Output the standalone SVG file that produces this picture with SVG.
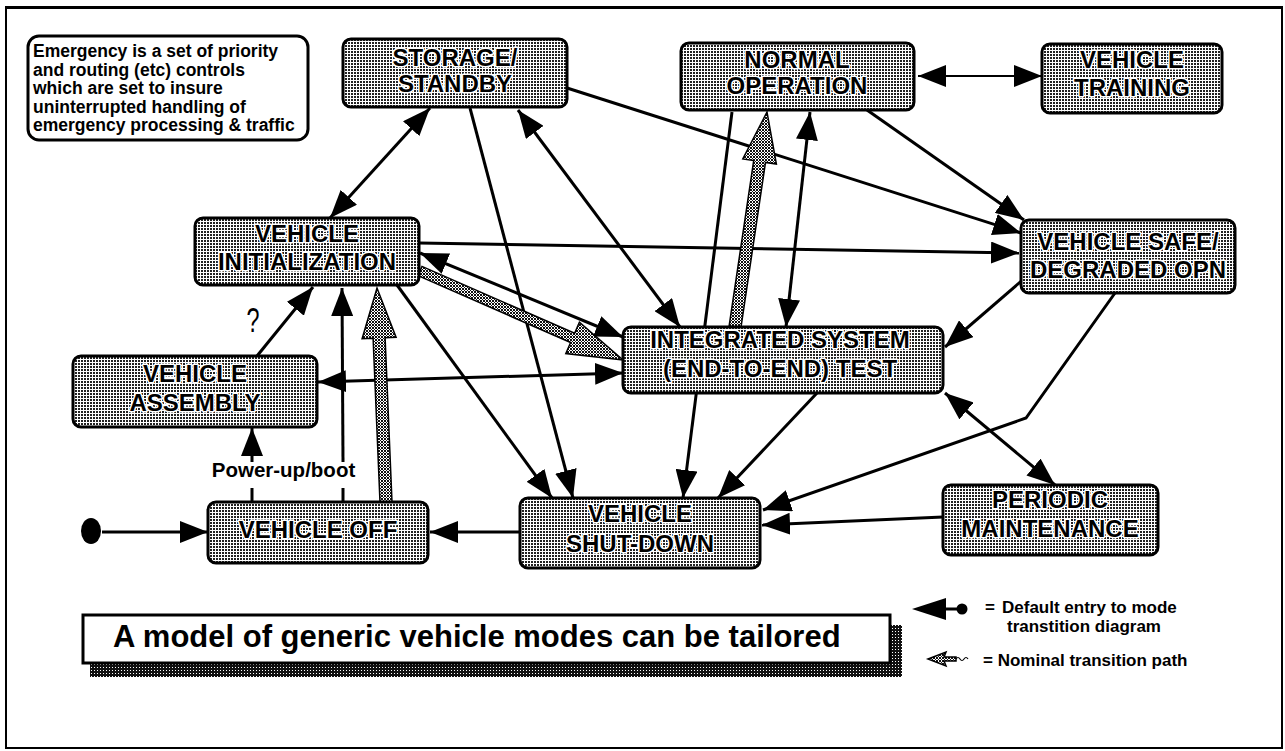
<svg xmlns="http://www.w3.org/2000/svg" width="1285" height="751" viewBox="0 0 1285 751">
  <defs>
    <!-- halftone fill used by the mode boxes -->
    <pattern id="dots" width="3" height="3" patternUnits="userSpaceOnUse">
      <rect width="3" height="3" fill="#fff"/>
      <rect width="2" height="2" fill="#222"/>
    </pattern>
    <!-- denser halftone for the nominal-path arrows -->
    <pattern id="hatch" width="3" height="3" patternUnits="userSpaceOnUse">
      <rect width="3" height="3" fill="#fff"/>
      <rect width="2" height="2" fill="#111"/>
      <rect x="2" y="2" width="1" height="1" fill="#111"/>
    </pattern>
    <!-- darker halftone for the caption drop shadow -->
    <pattern id="dark" width="3" height="3" patternUnits="userSpaceOnUse">
      <rect width="3" height="3" fill="#111"/>
      <rect x="1" y="1" width="1" height="1" fill="#fff"/>
    </pattern>
    <marker id="ah" viewBox="0 0 28 22" refX="28" refY="11" markerWidth="28" markerHeight="22" markerUnits="userSpaceOnUse" orient="auto-start-reverse">
      <path d="M0,0 L28,11 L0,22 Z" fill="#000"/>
    </marker>
    <style>
      .node rect { fill: url(#dots); stroke: #000; stroke-width: 3; }
      .lbl { font-family: "Liberation Sans", Arial, sans-serif; font-weight: bold; font-size: 24px; text-anchor: middle; fill: #000; stroke: #fff; stroke-width: 3; stroke-linejoin: round; paint-order: stroke; }
      .conn path { stroke: #000; stroke-width: 3; fill: none; }
      .one { marker-end: url(#ah); }
      .two { marker-start: url(#ah); marker-end: url(#ah); }
      .nominal { fill: url(#hatch); stroke: #000; stroke-width: 1.5; }
      .small { font-family: "Liberation Sans", Arial, sans-serif; font-weight: bold; font-size: 17px; fill: #000; }
    </style>
  </defs>

  <rect width="1285" height="751" fill="#fff"/>
  <!-- page frame -->
  <rect x="6" y="7" width="1276" height="741" fill="none" stroke="#000" stroke-width="2"/>
  <line x1="6" y1="7.5" x2="1282" y2="7.5" stroke="#000" stroke-width="3"/>

  <!-- note -->
  <g id="note">
    <rect x="28" y="36" width="280" height="104" rx="11" fill="#fff" stroke="#000" stroke-width="3"/>
    <g font-family="Liberation Sans, Arial, sans-serif" font-weight="bold" font-size="17.5px" fill="#000">
      <text x="33" y="57">Emergency is a set of priority</text>
      <text x="33" y="75.5">and routing (etc) controls</text>
      <text x="33" y="94">which are set to insure</text>
      <text x="33" y="112.5">uninterrupted handling of</text>
      <text x="33" y="131">emergency processing &amp; traffic</text>
    </g>
  </g>

  <!-- transitions -->
  <g id="connectors" class="conn">
    <path class="two" d="M330,218 L430,108"/>
    <path class="one" d="M470,108 L573,498"/>
    <path class="one" d="M397,285 L552,498"/>
    <path class="two" d="M518,110 L680,327"/>
    <path class="one" d="M567,88 L1021,233"/>
    <path class="one" d="M867,110 L1024,220"/>
    <path class="one" d="M419,243 L1019,253"/>
    <path class="two" d="M420,253 L623,337"/>
    <path class="two" d="M318,382 L623,373"/>
    <path class="one" d="M257,356 L313,287"/>
    <path d="M252,502 L252,488"/>
    <path class="one" d="M252,462 L252,428"/>
    <path d="M343,502 L343,488"/>
    <path class="one" d="M343,462 L342,288"/>
    <path class="one" d="M102,532 L208,532"/>
    <path class="one" d="M520,532 L430,532"/>
    <path class="one" d="M732,112 L683,498"/>
    <path class="two" d="M810,112 L786,327"/>
    <path class="one" d="M817,393 L718,498"/>
    <path class="one" d="M1026,277 L945,347"/>
    <path class="one" d="M1115,293 L1026,418 L763,510"/>
    <path class="two" d="M945,393 L1055,485"/>
    <path class="one" d="M943,517 L762,525"/>
    <path class="two" d="M918,76 L1042,76" style="stroke-width:2"/>
    <!-- nominal transition path -->
    <polygon class="nominal" points="418,275.6 570.6,342.5 565.8,353.5 623,360 579.4,322.3 574.6,333.3 422,266.4"/>
    <polygon class="nominal" points="729.1,326.1 753.7,160.6 742.8,159 767,112 776.4,164 765.5,162.4 740.9,327.9"/>
    <polygon class="nominal" points="380,502.3 373.1,338.3 362.1,338.7 377,288 396.1,337.3 385.1,337.7 392,501.7"/>
    <!-- initial state dot -->
    <ellipse cx="91" cy="531" rx="10" ry="13" fill="#000"/>
  </g>

  <g id="storage" class="node">
    <rect x="343" y="39" width="224" height="68" rx="8"/>
    <text class="lbl" x="455" y="66">STORAGE/</text>
    <text class="lbl" x="455" y="92">STANDBY</text>
  </g>
  <g id="normal" class="node">
    <rect x="681" y="43" width="233" height="67" rx="8"/>
    <text class="lbl" x="797" y="68">NORMAL</text>
    <text class="lbl" x="797" y="94">OPERATION</text>
  </g>
  <g id="training" class="node">
    <rect x="1042" y="44" width="180" height="69" rx="8"/>
    <text class="lbl" x="1132" y="68">VEHICLE</text>
    <text class="lbl" x="1132" y="96">TRAINING</text>
  </g>
  <g id="init" class="node">
    <rect x="195" y="218" width="224" height="67" rx="8"/>
    <text class="lbl" x="307" y="242">VEHICLE</text>
    <text class="lbl" x="307" y="270">INITIALIZATION</text>
  </g>
  <g id="safe" class="node">
    <rect x="1021" y="220" width="214" height="73" rx="8"/>
    <text class="lbl" x="1128" y="250">VEHICLE SAFE/</text>
    <text class="lbl" x="1128" y="278">DEGRADED OPN</text>
  </g>
  <g id="integrated" class="node">
    <rect x="623" y="327" width="320" height="66" rx="8"/>
    <text class="lbl" x="780" y="348">INTEGRATED SYSTEM</text>
    <text class="lbl" x="780" y="377">(END-TO-END) TEST</text>
  </g>
  <g id="assembly" class="node">
    <rect x="73" y="356" width="244" height="71" rx="8"/>
    <text class="lbl" x="195" y="382">VEHICLE</text>
    <text class="lbl" x="195" y="411">ASSEMBLY</text>
  </g>
  <g id="off" class="node">
    <rect x="208" y="502" width="220" height="61" rx="8"/>
    <text class="lbl" x="318" y="538">VEHICLE OFF</text>
  </g>
  <g id="shutdown" class="node">
    <rect x="520" y="498" width="240" height="70" rx="8"/>
    <text class="lbl" x="640" y="522">VEHICLE</text>
    <text class="lbl" x="640" y="552">SHUT-DOWN</text>
  </g>
  <g id="maintenance" class="node">
    <rect x="943" y="485" width="215" height="70" rx="8"/>
    <text class="lbl" x="1050" y="508">PERIODIC</text>
    <text class="lbl" x="1050" y="537">MAINTENANCE</text>
  </g>

  <!-- transition labels -->
  <text x="283.5" y="477" text-anchor="middle" font-family="Liberation Sans, Arial, sans-serif" font-weight="bold" font-size="20.5px">Power-up/boot</text>
  <text transform="translate(253,332) scale(0.65,1)" text-anchor="middle" font-family="Liberation Sans, Arial, sans-serif" font-size="36px">?</text>

  <!-- caption -->
  <g id="caption">
    <rect x="90" y="625" width="812" height="52" fill="url(#dark)"/>
    <rect x="83" y="615" width="807" height="48" fill="#fff" stroke="#000" stroke-width="3"/>
    <text x="113" y="647" font-family="Liberation Sans, Arial, sans-serif" font-weight="bold" font-size="31px">A model of generic vehicle modes can be tailored</text>
  </g>

  <!-- legend -->
  <g id="legend">
    <path d="M912,609 L946,598 L946,620 Z" fill="#000"/>
    <line x1="944" y1="609" x2="958" y2="609" stroke="#000" stroke-width="3"/>
    <circle cx="962" cy="609" r="5.5" fill="#000"/>
    <text class="small" x="985" y="613">=</text>
    <text class="small" x="1002" y="613">Default entry to mode</text>
    <text class="small" x="1007" y="632">transtition diagram</text>
    <polygon class="nominal" points="928,659 946,652 944,657 956,657 956,661 944,661 946,666"/>
    <path d="M956,659 q2,-3 4,0 t4,0 t4,0" fill="none" stroke="#000" stroke-width="1.2"/>
    <text class="small" x="983" y="666">= Nominal transition path</text>
  </g>
</svg>
